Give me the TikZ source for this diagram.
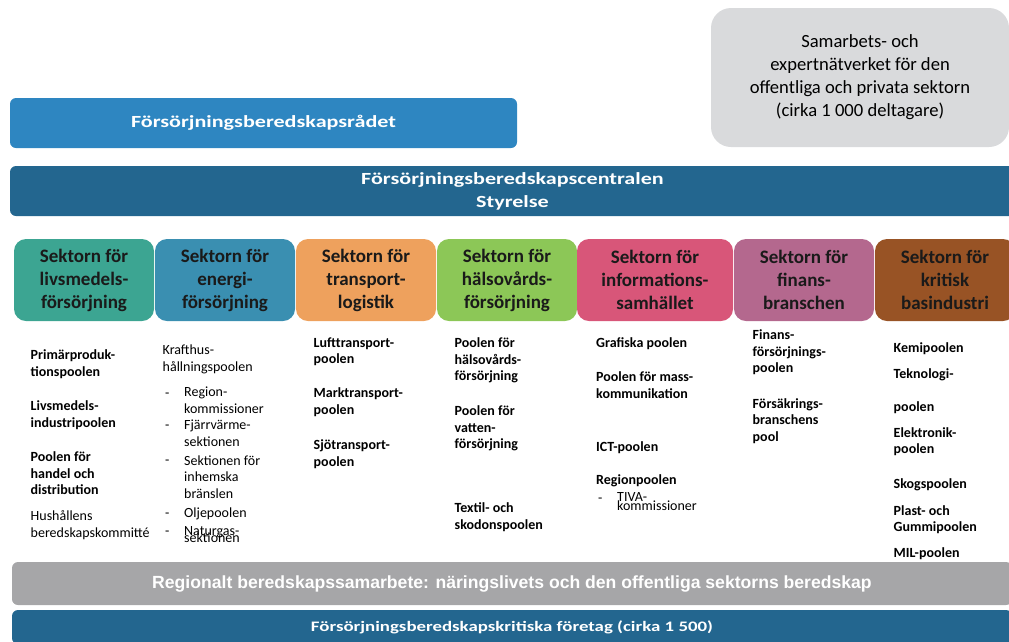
\documentclass[tikz,border=0pt]{standalone}
\usepackage{fontspec}
\setmainfont{Carlito}
\newfontfamily\barfont[FakeStretch=1.3]{Carlito}
\newfontfamily\arialfont{Liberation Sans}

\definecolor{natgray}{RGB}{217,218,220}
\definecolor{raadblue}{RGB}{46,134,193}
\definecolor{centblue}{RGB}{35,102,143}
\definecolor{regiongray}{RGB}{166,166,168}
\definecolor{livs}{RGB}{60,165,146}
\definecolor{energi}{RGB}{58,143,177}
\definecolor{transp}{RGB}{238,161,93}
\definecolor{halso}{RGB}{140,199,87}
\definecolor{info}{RGB}{216,86,121}
\definecolor{finans}{RGB}{180,104,142}
\definecolor{kritisk}{RGB}{152,83,37}
\definecolor{titletext}{RGB}{26,26,26}

\begin{document}
\begin{tikzpicture}[x=1pt,y=-1pt,
    box/.style={inner sep=0pt,rounded corners=6pt},
    bar/.style={box,text=white,align=center},
    sektor/.style={box,rounded corners=12pt,minimum width=140pt,minimum height=82pt,
      align=center,text=titletext,font=\fontsize{19}{23}\selectfont\bfseries},
    pool/.style={anchor=base west,inner sep=0pt,align=left,text=black,
      font=\fontsize{14}{16.5}\selectfont\bfseries},
    poolreg/.style={pool,font=\fontsize{14}{16.5}\selectfont}]
  \clip (0,0) rectangle (1009,641);

%% top row: council and the network box
  \node[box,rounded corners=20pt,fill=natgray,minimum width=298pt,minimum height=139pt,
    align=center,font=\fontsize{18.6}{23}\selectfont] (natverk) at (860,77.5)
    {Samarbets- och\\expertnätverket för den\\offentliga och privata sektorn\\(cirka 1 000 deltagare)};
  \node[bar,fill=raadblue,minimum width=507pt,minimum height=50pt,
    font=\barfont\fontsize{17}{23}\selectfont\bfseries] (raadet) at (263.5,123)
    {Försörjningsberedskapsrådet};
  \node[bar,fill=centblue,minimum width=1005pt,minimum height=50pt,
    font=\barfont\fontsize{17}{23}\selectfont\bfseries] (central) at (512.5,191)
    {Försörjningsberedskapscentralen\\Styrelse};

%% sectors
  \node[sektor,fill=livs] (livs) at (84,280) {Sektorn för\\livsmedels-\\försörjning};
  \node[sektor,fill=energi] (energi) at (225,280) {Sektorn för\\energi-\\försörjning};
  \node[sektor,fill=transp] (transport) at (366,280) {Sektorn för\\transport-\\logistik};
  \node[sektor,fill=halso] (halsa) at (507,280) {Sektorn för\\hälsovårds-\\försörjning};
  \node[sektor,fill=info,minimum width=156pt] (info) at (655,280) {Sektorn för\\informations-\\samhället};
  \node[sektor,fill=finans] (finans) at (804,280) {Sektorn för\\finans-\\branschen};
  \node[sektor,fill=kritisk] (kritisk) at (945,280) {Sektorn för\\kritisk\\basindustri};

%% pools under each sector (y is the baseline of the last line)
  \node[pool] (livs1) at (30.5,376) {Primärproduk-\\tionspoolen};
  \node[pool] (livs2) at (30.5,427) {Livsmedels-\\industripoolen};
  \node[pool] (livs3) at (30.5,494.5) {Poolen för\\handel och\\distribution};
  \node[poolreg] (livs4) at (30.5,537) {Hushållens\\beredskapskommitté};

  \node[poolreg] (energi1) at (162.5,371) {Krafthus-\\hållningspoolen};
  \node[poolreg] (energi2d) at (165,397) {-};
  \node[poolreg] (energi2) at (184,413) {Region-\\kommissioner};
  \node[poolreg] (energi3d) at (165,429) {-};
  \node[poolreg] (energi3) at (184,446) {Fjärrvärme-\\sektionen};
  \node[poolreg] (energi4d) at (165,464) {-};
  \node[poolreg] (energi4) at (184,498) {Sektionen för\\inhemska\\bränslen};
  \node[poolreg] (energi5d) at (165,517.5) {-};
  \node[poolreg] (energi5) at (184,517.5) {Oljepoolen};
  \node[poolreg] (energi6d) at (165,535.5) {-};
  \node[poolreg] (energi6a) at (184,535.5) {Naturgas-};
  \node[poolreg] (energi6b) at (184,542.5) {sektionen};

  \node[pool] (transp1) at (313.5,363.5) {Lufttransport-\\poolen};
  \node[pool] (transp2) at (313.5,414) {Marktransport-\\poolen};
  \node[pool] (transp3) at (313.5,466) {Sjötransport-\\poolen};

  \node[pool] (halsa1) at (454.5,380.5) {Poolen för\\hälsovårds-\\försörjning};
  \node[pool] (halsa2) at (454.5,448.5) {Poolen för\\vatten-\\försörjning};
  \node[pool] (halsa3) at (454.5,529) {Textil- och\\skodonspoolen};

  \node[pool] (info1) at (596,347.5) {Grafiska poolen};
  \node[pool] (info2) at (596,398) {Poolen för mass-\\kommunikation};
  \node[pool] (info3) at (596,451) {ICT-poolen};
  \node[pool] (info4) at (596,484) {Regionpoolen};
  \node[poolreg] (info5d) at (598,502) {-};
  \node[poolreg] (info5a) at (617,501) {TIVA-};
  \node[poolreg] (info5b) at (617,510.5) {kommissioner};

  \node[pool] (finans1) at (752.5,372.5) {Finans-\\försörjnings-\\poolen};
  \node[pool] (finans2) at (752.5,441) {Försäkrings-\\branschens\\pool};

  \node[pool] (kritisk1) at (893.5,352.5) {Kemipoolen};
  \node[pool] (kritisk2) at (893.5,378.5) {Teknologi-};
  \node[pool] (kritisk3) at (893.5,411) {poolen};
  \node[pool] (kritisk4) at (893.5,453.5) {Elektronik-\\poolen};
  \node[pool] (kritisk5) at (893.5,488.5) {Skogspoolen};
  \node[pool] (kritisk6) at (893.5,531.5) {Plast- och\\Gummipoolen};
  \node[pool] (kritisk7) at (893.5,557.5) {MIL-poolen};

%% bottom bars
  \node[bar,fill=regiongray,minimum width=1000pt,minimum height=43pt,
    font=\arialfont\fontsize{17.6}{20}\selectfont\bfseries] (regional) at (512,583.5)
    {Regionalt beredskapssamarbete: näringslivets och den offentliga sektorns beredskap};
  \node[bar,fill=centblue,minimum width=1000pt,minimum height=34pt,
    font=\barfont\fontsize{14.5}{18}\selectfont\bfseries] (foretag) at (512,627)
    {Försörjningsberedskapskritiska företag (cirka 1 500)};

\end{tikzpicture}
\end{document}
